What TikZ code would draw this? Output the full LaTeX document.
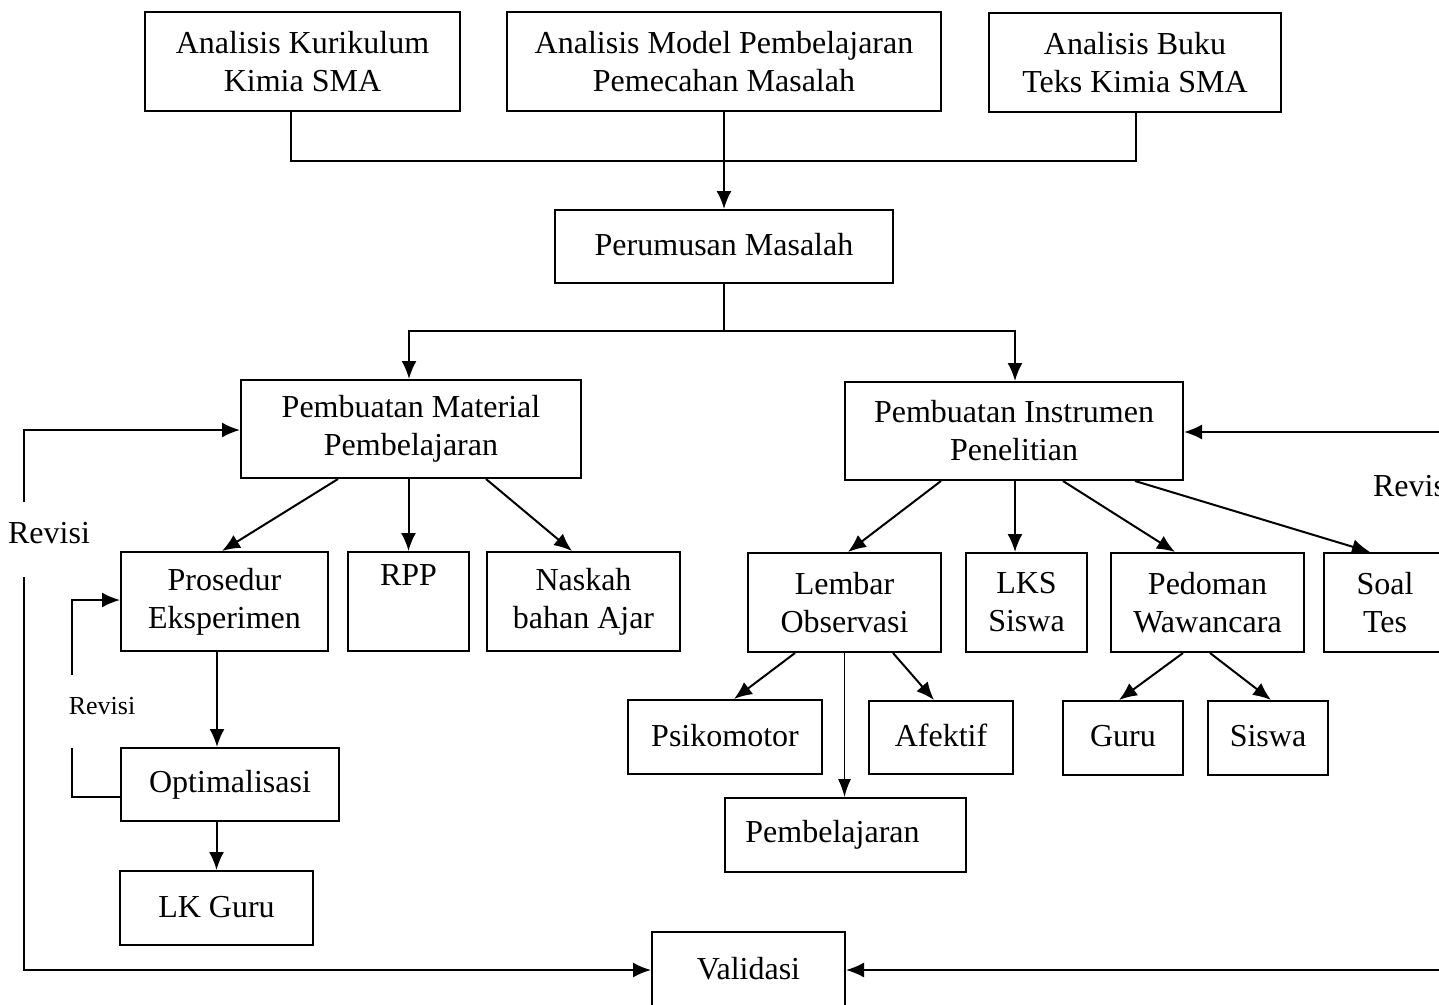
\documentclass[tikz,border=0pt]{standalone}
\usepackage{fontspec}
\setmainfont{Liberation Serif}
\usetikzlibrary{arrows.meta}
\newcommand\fsbig{\fontsize{32}{38}\selectfont}
\newcommand\fssmall{\fontsize{26}{30}\selectfont}
\tikzset{
  box/.style={draw, line width=2pt, inner sep=0pt, align=center, font=\fsbig},
  ln/.style={line width=2pt},
  arr/.style={line width=2pt, -{Latex[length=18pt,width=15pt]}},
  arrthin/.style={line width=1.3pt, -{Latex[length=18pt,width=13pt]}},
  lbl/.style={inner sep=0pt, font=\fsbig},
}
\begin{document}
\begin{tikzpicture}[x=1pt,y=-1pt]
\useasboundingbox (0,0) rectangle (1439,1004);
\clip (0,0) rectangle (1439,1004);
\fill[white] (0,0) rectangle (1439,1004);

% top row
\node[box, minimum width=315, minimum height=99] (a1) at (302.5,61.5) {Analisis Kurikulum\\Kimia SMA};
\node[box, minimum width=434, minimum height=99] (a2) at (724,61.5) {Analisis Model Pembelajaran\\Pemecahan Masalah};
\node[box, minimum width=292, minimum height=99] (a3) at (1135,62.5) {Analisis Buku\\Teks Kimia SMA};
\node[box, minimum width=338, minimum height=73] (pm) at (724,246.5) {\raisebox{4pt}{Perumusan Masalah}};

% second row
\node[box, minimum width=340, minimum height=98] (mat) at (411,429) {Pembuatan Material\\Pembelajaran};
\node[box, minimum width=338, minimum height=98] (ins) at (1014,431) {Pembuatan Instrumen\\Penelitian};

% left branch
\node[box, minimum width=207, minimum height=99] (pro) at (224.5,601.5) {Prosedur\\Eksperimen};
\node[box, minimum width=121, minimum height=99] (rpp) at (408.5,601.5) {RPP\\[4pt]\strut};
\node[box, minimum width=193, minimum height=99] (nas) at (583.5,601.5) {Naskah\\bahan Ajar};
\node[box, minimum width=218, minimum height=73] (opt) at (230,784.5) {Optimalisasi};
\node[box, minimum width=193, minimum height=74] (lkg) at (216.5,908) {\raisebox{3pt}{LK Guru}};

% right branch
\node[box, minimum width=193, minimum height=99] (lem) at (844.5,602.5) {Lembar\\Observasi};
\node[box, minimum width=121, minimum height=99] (lks) at (1026.5,602.5) {LKS\\Siswa};
\node[box, minimum width=193, minimum height=99] (ped) at (1207.5,602.5) {Pedoman\\Wawancara};
\node[box, minimum width=122, minimum height=99] (soal) at (1385,602.5) {Soal\\Tes};
\node[box, minimum width=194, minimum height=74] (psi) at (725,737) {\raisebox{4pt}{Psikomotor}};
\node[box, minimum width=144, minimum height=73] (afe) at (941,737.5) {\raisebox{4pt}{Afektif}};
\node[box, minimum width=241, minimum height=74] (pbl) at (845.5,835) {\raisebox{3pt}{Pembelajaran}\hspace*{26pt}};
\node[box, minimum width=120, minimum height=74] (gur) at (1123,738) {\raisebox{4pt}{Guru}};
\node[box, minimum width=120, minimum height=74] (sis) at (1268,738) {\raisebox{4pt}{Siswa}};
\node[box, minimum width=193, minimum height=76] (val) at (748.5,970) {\raisebox{4pt}{Validasi}};

% top connectors
\coordinate (j1) at (291,161);
\coordinate (j3) at (1136,161);
\draw[ln] (a1.south -| j1) -- (j1) -- (j3) -- (a3.south -| j3);
\draw[arr] (a2.south) -- (pm.north);
\coordinate (j2) at (724,331);
\draw[ln] (pm.south) -- (j2);
\draw[arr] (j2) -| ([xshift=-2pt]mat.north);
\draw[arr] (j2) -| ([xshift=1pt]ins.north);

% material branch
\draw[arr] ([xshift=-73pt]mat.south) -- ([xshift=-2.5pt]pro.north);
\draw[arr] (rpp.north |- mat.south) -- (rpp.north);
\draw[arr] ([xshift=75pt]mat.south) -- ([xshift=-11.5pt]nas.north);
\draw[arr] ([xshift=-7.5pt]pro.south) -- ([xshift=-7.5pt]pro.south |- opt.north);
\draw[arr] (lkg.north |- opt.south) -- (lkg.north);

% inner revisi loop
\coordinate (q1) at (72,797);
\coordinate (q2) at (72,748);
\coordinate (q3) at (72,675);
\coordinate (q4) at (72,600);
\draw[ln] ([yshift=-12.5pt]opt.west) -- (q1) -- (q2);
\draw[arr] (q3) -- (q4) -- (q4 -| pro.west);
\node[inner sep=0pt, font=\fssmall] (rv2) at (102,706) {Revisi};

% instrument branch
\draw[arr] ([xshift=-73pt]ins.south) -- ([xshift=3.5pt]lem.north);
\draw[arr] ([xshift=1pt]ins.south) -- ([xshift=1pt]ins.south |- lks.north);
\draw[arr] ([xshift=49pt]ins.south) -- ([xshift=-32.5pt]ped.north);
\draw[arr] ([xshift=121pt]ins.south) -- ([xshift=-15pt]soal.north);
\draw[arr] ([xshift=-49.5pt]lem.south) -- ([xshift=9pt]psi.north);
\draw[arrthin] (lem.south) -- (lem.south |- pbl.north);
\draw[arr] ([xshift=48.5pt]lem.south) -- ([xshift=-7pt]afe.north);
\draw[arr] ([xshift=-24.5pt]ped.south) -- ([xshift=-4pt]gur.north);
\draw[arr] ([xshift=2.5pt]ped.south) -- ([xshift=3pt]sis.north);

% big left revisi loop
\coordinate (L1) at (24,970);
\coordinate (L2) at (24,577);
\coordinate (L3) at (24,502);
\coordinate (L4) at (24,430);
\draw[arr] (L2) -- (L1) -- (val.west);
\draw[arr] (L3) -- (L4) -- ([yshift=-1pt]mat.west);
\node[lbl] (rv1) at (49,533) {Revisi};

% big right revisi loop (cut off at the right edge, as in the reference)
\coordinate (R1) at (1470,970);
\coordinate (R2) at (1470,432);
\draw[arr] (R1) -- (val.east);
\draw[arr] (R2) -- ([yshift=-1pt]ins.east);
\node[lbl] (rv3) at (1414,486) {Revisi};
\end{tikzpicture}
\end{document}
